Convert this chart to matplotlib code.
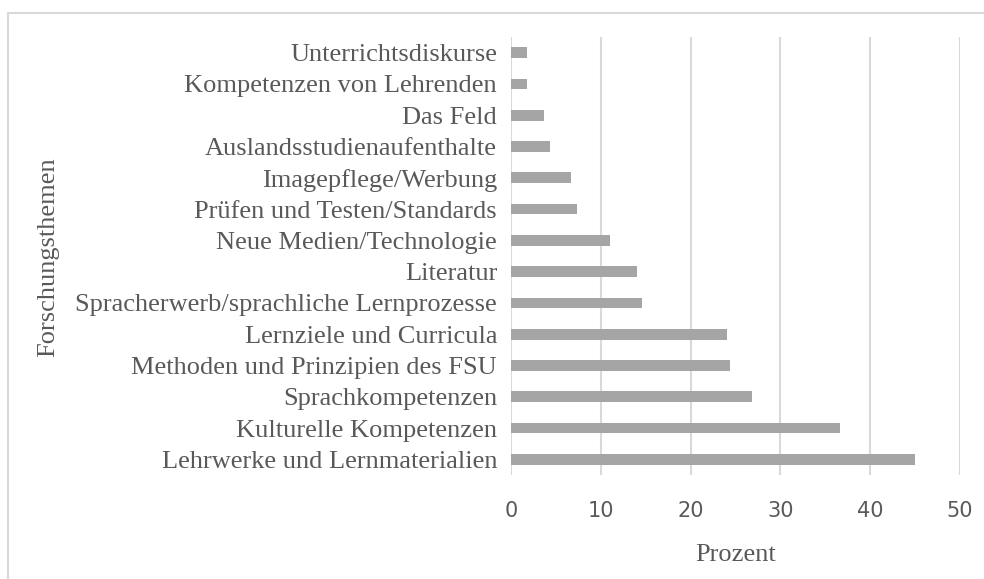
import matplotlib
matplotlib.use("Agg")
import matplotlib.pyplot as plt
from matplotlib.lines import Line2D
import numpy as np

# Themen von unten nach oben (wie im Diagramm)
themen = [
    "Lehrwerke und Lernmaterialien",
    "Kulturelle Kompetenzen",
    "Sprachkompetenzen",
    "Methoden und Prinzipien des FSU",
    "Lernziele und Curricula",
    "Spracherwerb/sprachliche Lernprozesse",
    "Literatur",
    "Neue Medien/Technologie",
    "Prüfen und Testen/Standards",
    "Imagepflege/Werbung",
    "Auslandsstudienaufenthalte",
    "Das Feld",
    "Kompetenzen von Lehrenden",
    "Unterrichtsdiskurse",
]
prozent = [45.0, 36.6, 26.8, 24.4, 24.0, 14.6, 14.0, 11.0, 7.3, 6.7, 4.3, 3.7, 1.8, 1.8]
x_ticks = [0, 10, 20, 30, 40, 50]

text_color = "#595959"
bar_color = "#A5A5A5"
grid_color = "#D9D9D9"

fig = plt.figure(figsize=(9.84, 5.79), dpi=100)
ax = fig.add_axes([511 / 984, 1 - 475 / 579, 449 / 984, 438 / 579])

y = np.arange(len(themen))
ax.barh(y, prozent, height=0.34, color=bar_color, zorder=3)

ax.set_xlim(0, 50)
ax.set_ylim(-0.5, len(themen) - 0.5)
ax.set_xticks(x_ticks)
ax.set_xticklabels([str(t) for t in x_ticks], family="DejaVu Sans",
                   fontsize=15, color=text_color)
ax.set_yticks(y)
ax.set_yticklabels(themen, family="Liberation Serif", fontsize=19, color=text_color)
ax.tick_params(axis="x", length=0, pad=19)
ax.tick_params(axis="y", length=0, pad=10)

ax.grid(axis="x", color=grid_color, linewidth=1.5, zorder=0)
for s in ax.spines.values():
    s.set_visible(False)

ax.set_xlabel("Prozent", family="Liberation Serif", fontsize=19,
              color=text_color, labelpad=16)
fig.text(48 / 984, 1 - 257 / 579, "Forschungsthemen", family="Liberation Serif",
         fontsize=19, color=text_color, rotation=90, ha="center", va="center")

# heller Rahmen (links und oben sichtbar)
fig.add_artist(Line2D([8 / 984, 8 / 984], [0, 1 - 13 / 579],
                      transform=fig.transFigure, color=grid_color, linewidth=1.5))
fig.add_artist(Line2D([8 / 984, 1], [1 - 13 / 579, 1 - 13 / 579],
                      transform=fig.transFigure, color=grid_color, linewidth=1.5))

fig.savefig("out.png", dpi=100)
